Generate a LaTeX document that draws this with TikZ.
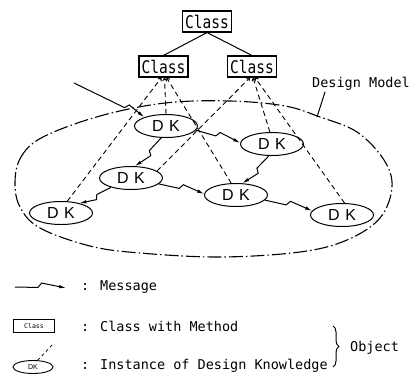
\documentclass[tikz,border=0pt]{standalone}
\usepackage{fontspec}
\usepackage{graphicx}
\usetikzlibrary{arrows.meta,calc,shapes.geometric,decorations.pathreplacing}
\newfontfamily\monof{DejaVu Sans Mono}
\newfontfamily\sansf{Liberation Sans}
\newcommand\msgcon[2]{\draw[msgline] (#1) -- ($(#1)!0.45!(#2)$) -- ($(#1)!0.52!(#2)!4.5pt!90:(#2)$) -- (#2);}
\begin{document}
\begin{tikzpicture}[x=1pt,y=-1pt,
 clsbox/.style={draw,line width=1.1pt,minimum width=49pt,minimum height=21pt,inner sep=0pt,font=\monof\fontsize{14.5}{15}\selectfont},
 dkell/.style={draw,ellipse,line width=1pt,minimum width=63pt,minimum height=23pt,inner sep=0pt,font=\sansf\fontsize{16}{16}\selectfont},
 lbl/.style={font=\monof\fontsize{13.5}{14}\selectfont,inner sep=0pt},
 tree/.style={line width=1pt},
 link/.style={dash pattern=on 5pt off 3.5pt,line width=0.9pt,-{Straight Barb[length=2.5pt,width=4pt]}},
 msgline/.style={line width=1pt,-{Latex[length=7pt,width=3.5pt]}},
 outline/.style={line width=1.1pt,dash pattern=on 14pt off 3pt on 1.5pt off 3pt},
]
\useasboundingbox (0,0) rectangle (413,376);
% outline of the design model
\draw[outline] plot[smooth cycle,tension=0.6] coordinates {
 (15,182) (21,157) (43,137) (100,116) (165,103) (230,101) (285,106) (320,117)
 (357,132) (384,160) (392,187) (380,218) (347,240) (300,252) (220,257)
 (140,253) (90,246) (40,228) (20,207)};
% classes
\node[clsbox] (c0) at (207,21.5) {\scalebox{1}[1.2]{Class}};
\node[clsbox] (c1) at (163.5,66.5) {\scalebox{1}[1.2]{Class}};
\node[clsbox] (c2) at (252,66.5) {\scalebox{1}[1.2]{Class}};
\draw[tree] (c0.south) -- (c1.north);
\draw[tree] (c0.south) -- (c2.north);
% design knowledge instances
\node[dkell] (d1) at (166,126) {D\hspace{1.2pt} K};
\node[dkell] (d2) at (272,144) {D\hspace{1.2pt} K};
\node[dkell] (d3) at (131,178) {D\hspace{1.2pt} K};
\node[dkell] (d4) at (236,195) {D\hspace{1.2pt} K};
\node[dkell] (d5) at (61,213) {D\hspace{1.2pt} K};
\node[dkell] (d6) at (342,215) {D\hspace{1.2pt} K};
% instance-of links
\draw[link] (d5.62) -- ($(c1.south)+(-2,0)$);
\draw[link] (d1.north) -- ($(c1.south)+(1,0)$);
\draw[link] (d4.112) -- ($(c1.south)+(3,0)$);
\draw[link] (d3.15) -- ($(c2.south)+(-2,0)$);
\draw[link] (d2.100) -- ($(c2.south)+(1,0)$);
\draw[link] (d6.78) -- ($(c2.south)+(3,0)$);
% messages
\coordinate (src) at (74,83);
\draw[msgline] (src) -- ($(src)!0.72!(d1.158)$) -- ($(src)!0.76!(d1.158)!4.5pt!90:(d1.158)$) -- (d1.158);
\msgcon{d1.-8}{d2.178}
\msgcon{d1.-112}{d3.72}
\msgcon{d2.-105}{d4.62}
\msgcon{d3.-12}{d4.178}
\msgcon{d3.205}{d5.28}
\msgcon{d4.-10}{d6.172}
% design model label
\node[lbl] (dm) at (361,84) {Design Model};
\coordinate (dmend) at (317,117);
\draw[tree] ($(dm.south west)+(13,1)$) -- (dmend);
% legend
\coordinate (lm1) at (15,287);
\coordinate (lm2) at (66,288);
\msgcon{lm1}{lm2}
\node[lbl,anchor=west] (t1) at (81,287) {: Message};
\node[draw,line width=0.8pt,minimum width=41pt,minimum height=13pt,inner sep=0pt,font=\monof\fontsize{6.5}{7}\selectfont] (lc) at (34,326) {Class};
\node[lbl,anchor=west] (t2) at (81,326) {: Class with Method};
\node[draw,ellipse,line width=0.9pt,minimum width=40pt,minimum height=13pt,inner sep=0pt,font=\sansf\fontsize{7}{7}\selectfont] (ld) at (33,367) {DK};
\coordinate (tick) at (53,344);
\draw[dash pattern=on 3pt off 3pt,line width=0.8pt] (ld.55) -- (tick);
\node[lbl,anchor=west] (t3) at (81,366) {: Instance of Design Knowledge};
\draw[decorate,decoration={brace,amplitude=6pt},line width=1pt] (333,326) -- (333,367);
\node[lbl,anchor=west] (obj) at (350,348) {Object};
\end{tikzpicture}
\end{document}
